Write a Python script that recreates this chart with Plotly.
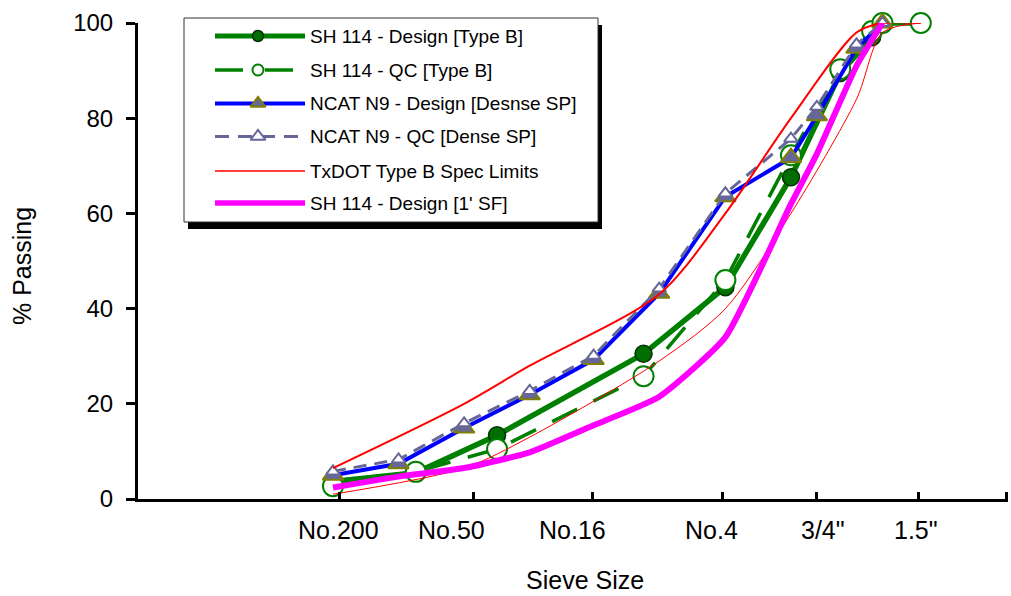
import math
import plotly.graph_objects as go

# ---------------- data ----------------
# Sieve openings in mm
txdot_sieves = [0.075, 0.18, 0.425, 2.0, 4.75, 9.5, 16.0, 22.4, 25.0, 37.5]
superpave_sieves = [0.075, 0.15, 0.3, 0.6, 1.18, 2.36, 4.75, 9.5, 12.5, 19.0, 25.0]
spec_sieves = [0.075, 0.3, 0.6, 2.36, 4.75, 9.5, 19.0, 25.0, 37.5]

# Percent passing
sh114_design_b = [3.7, 5.5, 13.4, 30.5, 44.5, 67.6, 89.5, 97.0, 100, 100]
sh114_qc_b = [2.7, 5.7, 10.5, 25.8, 46.0, 72.2, 90.3, 98.3, 100, 100]
ncat_n9_design = [5.0, 7.4, 14.9, 21.9, 29.3, 43.2, 63.5, 71.7, 80.5, 94.7, 100]
ncat_n9_qc = [5.8, 8.3, 15.9, 22.7, 30.1, 44.2, 64.2, 75.7, 82.4, 95.5, 100]
spec_upper = [6.5, 20, 28, 43, 60, 80, 98, 100, 100]
spec_lower = [1.0, 6.5, 13, 29, 40, 60, 84, 98, 100]
sh114_design_sf = [2.4, 4.7, 6.5, 9.8, 15.5, 21.5, 34, 62, 72.5, 91, 100]

series_names = [
    "SH 114 - Design [Type B]",
    "SH 114 - QC [Type B]",
    "NCAT N9 - Design [Desnse SP]",
    "NCAT N9 - QC [Dense SP]",
    "TxDOT Type B Spec Limits",
    "SH 114 - Design [1' SF]",
]

# x-axis labels and where they sit (mm)
tick_labels = ["No.200", "No.50", "No.16", "No.4", "3/4\"", "1.5\""]
tick_label_mm = [0.0798, 0.263, 0.942, 4.1, 13.4, 35.5]
tick_mark_mm = [0.0806, 0.333, 1.17, 4.59, 12.4, 36.6, 92.6]

y_ticks = [0, 20, 40, 60, 80, 100]

# ---------------- styles ----------------
GREEN = "#008000"
SLATE = "#666699"
OLIVE = "#808000"
BLUE = "#0000FF"
RED = "#FF0000"
MAGENTA = "#FF00FF"
FONT = "Arial, Liberation Sans, sans-serif"

W, H = 1011, 596
PL, PR, PT, PB = 138, 1008, 23, 499  # plot area edges in pixels
X_RANGE = [-2.0202, 1.9743]          # log10(mm)


def px_x(px):
    return (px - PL) / (PR - PL)


def px_y(py):
    return (PB - py) / (PB - PT)


styles = [
    dict(line=dict(color=GREEN, width=5.5),
         marker=dict(symbol="circle", size=17, color="#006e00",
                     line=dict(color="#003300", width=1.5))),
    dict(line=dict(color=GREEN, width=3.5, dash="28px,18px"),
         marker=dict(symbol="circle", size=20, color="white",
                     line=dict(color=GREEN, width=2))),
    dict(line=dict(color=BLUE, width=4),
         marker=dict(symbol="triangle-up", size=18, color=SLATE,
                     line=dict(color=OLIVE, width=2))),
    dict(line=dict(color=SLATE, width=3, dash="13px,8px"),
         marker=dict(symbol="triangle-up", size=12, color="white",
                     line=dict(color=SLATE, width=2))),
]

fig = go.Figure()

fig.add_trace(go.Scatter(x=txdot_sieves, y=sh114_design_b, mode="lines+markers",
                         cliponaxis=False, **styles[0]))
fig.add_trace(go.Scatter(x=txdot_sieves, y=sh114_qc_b, mode="lines+markers",
                         cliponaxis=False, **styles[1]))
fig.add_trace(go.Scatter(x=superpave_sieves, y=ncat_n9_design, mode="lines+markers",
                         cliponaxis=False, **styles[2]))
fig.add_trace(go.Scatter(x=superpave_sieves, y=ncat_n9_qc, mode="lines+markers",
                         cliponaxis=False, **styles[3]))
fig.add_trace(go.Scatter(x=spec_sieves, y=spec_upper, mode="lines",
                         line=dict(color=RED, width=2, shape="spline", smoothing=0.8)))
fig.add_trace(go.Scatter(x=spec_sieves, y=spec_lower, mode="lines",
                         line=dict(color=RED, width=1, shape="spline", smoothing=0.8)))
fig.add_trace(go.Scatter(x=superpave_sieves, y=sh114_design_sf, mode="lines",
                         line=dict(color=MAGENTA, width=6, shape="spline", smoothing=0.5)))

# ---------------- legend box (drawn by hand) ----------------
box_l, box_t, box_r, box_b = 184, 18, 598, 222
shapes = [
    dict(type="rect", xref="paper", yref="paper", layer="below",
         x0=px_x(box_l + 4), x1=px_x(box_r + 4), y0=px_y(box_b + 7), y1=px_y(box_t + 7),
         fillcolor="black", line=dict(width=0)),
    dict(type="rect", xref="paper", yref="paper", layer="below",
         x0=px_x(box_l), x1=px_x(box_r), y0=px_y(box_b), y1=px_y(box_t),
         fillcolor="white", line=dict(color="#333333", width=1)),
]

row_y = [36, 70, 103.5, 136.5, 171, 203]
sample_x0, sample_x1, marker_x, text_x = 215, 305, 258, 308

legend_lines = [
    dict(color=GREEN, width=5),
    dict(color=GREEN, width=3.5, dash="28px,22px"),
    dict(color=BLUE, width=4),
    dict(color=SLATE, width=3.2, dash="14px,9px"),
    dict(color=RED, width=1.3),
    dict(color=MAGENTA, width=5.5),
]
legend_markers = [
    dict(symbol="circle", size=11, color="#006e00", line=dict(color="#003300", width=1.5)),
    dict(symbol="circle", size=11, color="white", line=dict(color=GREEN, width=2)),
    dict(symbol="triangle-up", size=13, color=SLATE, line=dict(color=OLIVE, width=2)),
    dict(symbol="triangle-up", size=13, color="white", line=dict(color=SLATE, width=2)),
    None,
    None,
]

annotations = []
for name, ry, ln, mk in zip(series_names, row_y, legend_lines, legend_markers):
    fig.add_trace(go.Scatter(x=[sample_x0, sample_x1], y=[ry, ry], mode="lines",
                             line=ln, xaxis="x2", yaxis="y2", hoverinfo="skip"))
    if mk is not None:
        fig.add_trace(go.Scatter(x=[marker_x], y=[ry], mode="markers", marker=mk,
                                 xaxis="x2", yaxis="y2", cliponaxis=False,
                                 hoverinfo="skip"))
    annotations.append(dict(xref="paper", yref="paper", x=px_x(text_x), y=px_y(ry),
                            xanchor="left", yanchor="middle", showarrow=False,
                            text=name, font=dict(family=FONT, size=19, color="black")))

# x tick labels
for lab, mm in zip(tick_labels, tick_label_mm):
    annotations.append(dict(xref="x", yref="paper", x=math.log10(mm), y=px_y(530),
                            xanchor="center", yanchor="middle", showarrow=False,
                            text=lab, font=dict(family=FONT, size=25, color="black")))

# axis titles
annotations.append(dict(xref="paper", yref="paper", x=px_x(585), y=px_y(580),
                        xanchor="center", yanchor="middle", showarrow=False,
                        text="Sieve Size", font=dict(family=FONT, size=25, color="black")))
annotations.append(dict(xref="paper", yref="paper", x=px_x(22), y=px_y(266),
                        xanchor="center", yanchor="middle", showarrow=False, textangle=-90,
                        text="% Passing", font=dict(family=FONT, size=25, color="black")))

fig.update_layout(
    width=W, height=H,
    margin=dict(l=PL, r=W - PR, t=PT, b=H - PB),
    paper_bgcolor="white", plot_bgcolor="white",
    showlegend=False,
    font=dict(family=FONT, color="black"),
    xaxis=dict(type="log", range=X_RANGE, showgrid=False, zeroline=False,
               showline=True, linecolor="black", linewidth=3,
               tickmode="array", tickvals=tick_mark_mm,
               ticktext=[""] * len(tick_mark_mm),
               ticks="inside", ticklen=7, tickwidth=3, tickcolor="black"),
    yaxis=dict(range=[0, 100], showgrid=False, zeroline=False,
               showline=True, linecolor="black", linewidth=3,
               tickmode="array", tickvals=y_ticks,
               ticks="outside", ticklen=9, tickwidth=2.5, tickcolor="black",
               tickfont=dict(family=FONT, size=24, color="black"),
               ticklabelstandoff=8),
    xaxis2=dict(overlaying="x", anchor="y2", range=[PL, PR], visible=False),
    yaxis2=dict(overlaying="y", anchor="x2", range=[PB, PT], visible=False),
    shapes=shapes,
    annotations=annotations,
)

fig.write_html("out.html")
